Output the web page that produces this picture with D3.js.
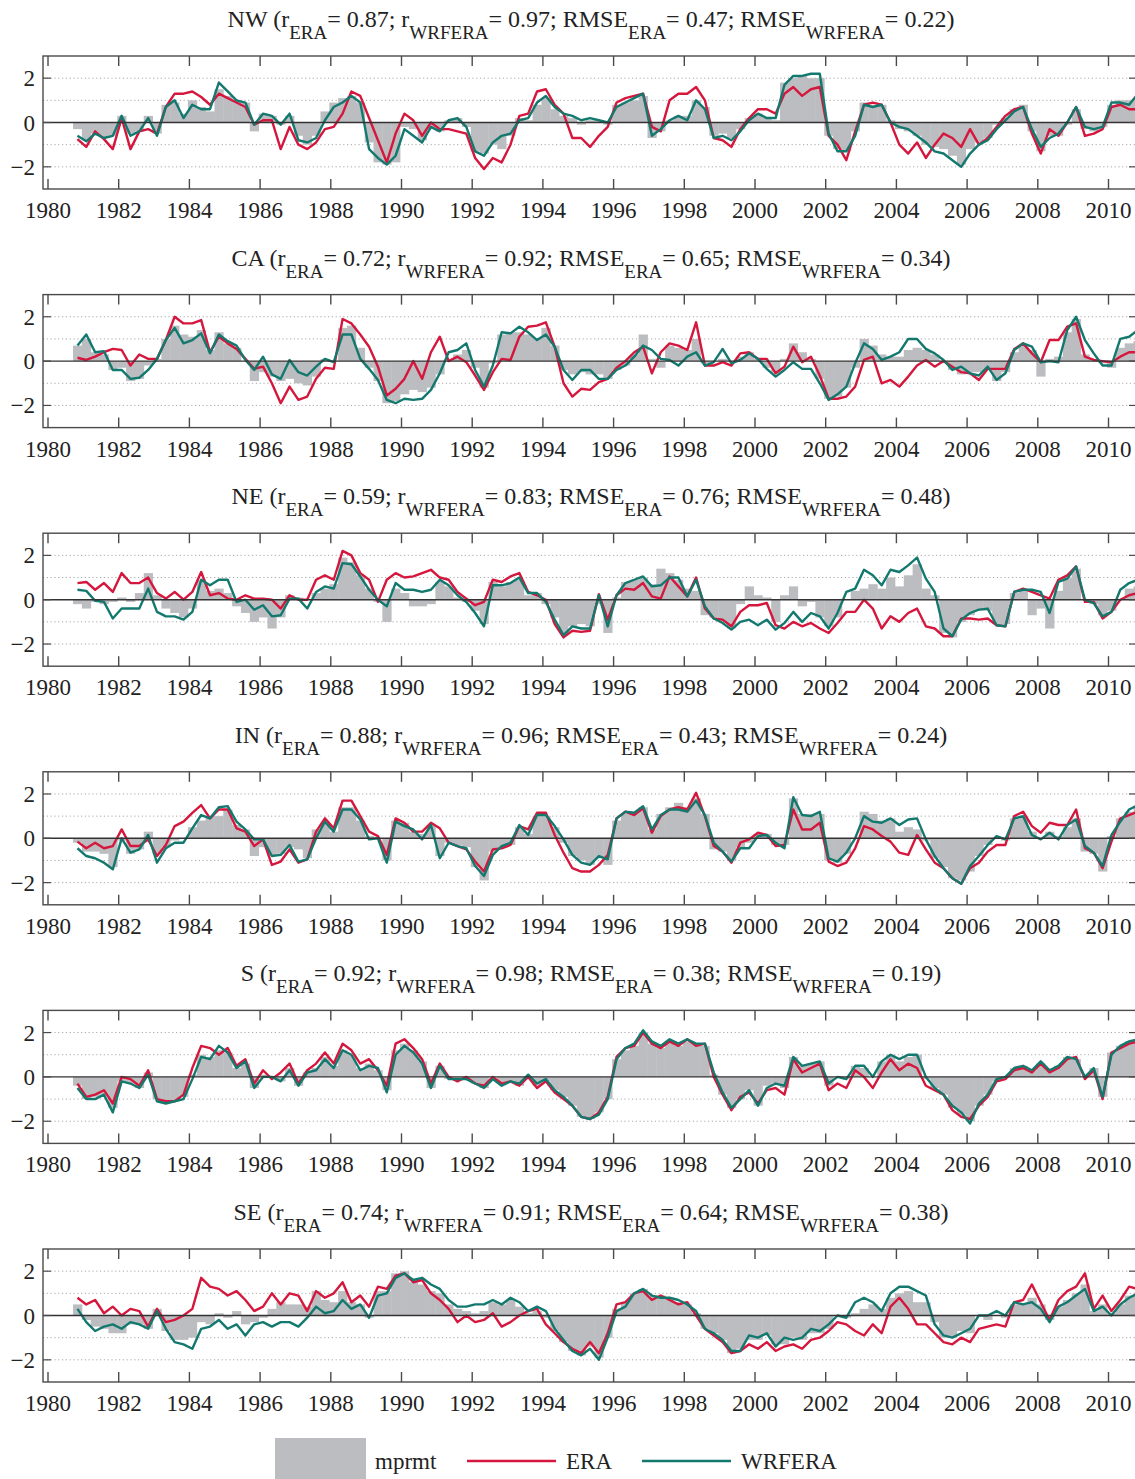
<!DOCTYPE html>
<html>
<head>
<meta charset="utf-8">
<script src="https://cdn.jsdelivr.net/npm/d3@7"></script>
<style>
  html, body { margin: 0; padding: 0; background: #ffffff; }
  svg { display: block; font-family: "Liberation Serif", "Times New Roman", serif; }
</style>
</head>
<body>
<svg id="chart" width="1135" height="1479"></svg>
<script>
// Regional standardized anomaly series, quarterly samples from Nov 1980.
const regions = ["NW", "CA", "NE", "IN", "S", "SE"];
const rEra      = ["0.87", "0.72", "0.59", "0.88", "0.92", "0.74"];
const rWrfera   = ["0.97", "0.92", "0.83", "0.96", "0.98", "0.91"];
const rmseEra   = ["0.47", "0.65", "0.76", "0.43", "0.38", "0.64"];
const rmseWrfera= ["0.22", "0.34", "0.48", "0.24", "0.19", "0.38"];

const yearTicks = [1980, 1982, 1984, 1986, 1988, 1990, 1992, 1994, 1996, 1998, 2000, 2002, 2004, 2006, 2008, 2010];
const valueTicks = [2, 0, -2];
const gridValues = [2, 1, -1, -2];

const firstSample = 1980 + 10 / 12;   // November 1980
const sampleStep = 0.25;              // years between samples

// ---- NW ----
const nwObs = [
  -0.3,-0.8,-0.5,-0.7,  -0.6,0.3,-0.5,-0.4,  0.3,-0.5,0.8,0.9,  0.4,1.0,0.7,0.5,
  1.5,1.2,1.0,0.9,  -0.4,0.4,0.3,-0.1,  0.3,-0.6,-1.0,-0.6,  0.5,0.9,1.1,1.2,
  0.9,-0.9,-1.8,-1.9,  -1.8,-0.2,-0.3,-0.8,  -0.3,-0.4,0.1,0.2,  -0.2,-1.3,-1.4,-1.0,
  -1.2,-0.6,0.2,0.1,  0.8,1.1,0.6,0.3,  0.2,-0.1,0.1,0.1,  -0.1,0.8,0.9,1.0,
  1.2,-0.7,-0.4,0.1,  0.3,0.3,1.0,0.7,  -0.6,-0.5,-0.7,-0.3,  0.2,0.4,0.2,0.1,
  1.8,2.0,2.1,2.0,  2.0,-0.6,-1.2,-1.3,  -0.4,0.9,0.8,0.8,  0.1,-0.3,-0.4,-0.6,
  -1.0,-1.1,-1.2,-1.5,  -1.9,-1.2,-0.9,-0.7,  -0.1,0.2,0.6,0.8,  -0.4,-1.3,-0.6,-0.6,
  -0.1,0.6,-0.3,-0.4,  -0.2,0.8,1.0,1.0,  1.1
];
const nwEra = [
  -0.75,-1.1,-0.4,-0.75,  -1.2,0.2,-1.2,-0.4,  -0.3,-0.5,0.7,1.3,  1.3,1.4,1.15,0.8,
  1.3,1.1,0.9,0.7,  -0.1,0.1,0.1,-1.2,  -0.2,-1.0,-1.2,-0.9,  -0.3,-0.2,0.4,1.4,
  1.2,0.2,-0.8,-1.8,  -0.5,0.4,0.1,-0.6,  0.0,-0.3,-0.3,-0.4,  -0.5,-1.6,-2.1,-1.6,
  -1.8,-1.0,0.3,0.4,  1.4,1.5,0.8,0.4,  -0.7,-0.7,-1.1,-0.6,  -0.2,0.9,1.1,1.2,
  1.3,-0.2,-0.4,1.0,  1.3,1.3,1.6,1.0,  -0.7,-0.8,-1.1,-0.3,  0.2,0.6,0.6,0.4,
  1.3,1.6,1.2,1.5,  1.6,-0.6,-1.0,-1.7,  -0.4,0.8,0.9,0.8,  0.0,-1.0,-1.4,-0.9,
  -1.6,-1.0,-0.5,-0.7,  -1.1,-0.3,-1.0,-0.7,  -0.2,0.3,0.6,0.7,  -0.5,-1.4,-0.3,-0.6,
  0.0,0.7,-0.6,-0.5,  -0.3,0.7,0.8,0.6,  0.6
];
const nwWrfera = [
  -0.6,-0.85,-0.5,-0.7,  -0.6,0.3,-0.6,-0.4,  0.2,-0.6,0.7,1.0,  0.2,0.8,0.6,0.6,
  1.8,1.4,1.0,0.9,  -0.1,0.4,0.3,-0.1,  0.4,-0.8,-0.9,-0.7,  0.1,0.7,0.9,1.2,
  0.9,-1.2,-1.6,-1.9,  -1.5,-0.3,-0.6,-0.9,  -0.2,-0.4,0.1,0.2,  -0.2,-1.3,-1.5,-0.9,
  -0.6,-0.5,0.1,0.2,  0.9,1.2,0.7,0.4,  0.3,0.1,0.2,0.1,  0.0,0.7,0.9,1.1,
  1.3,-0.6,-0.3,0.1,  0.3,0.1,1.0,0.6,  -0.7,-0.6,-0.8,-0.4,  0.1,0.4,0.2,0.2,
  1.7,2.1,2.1,2.2,  2.2,-0.5,-1.3,-1.3,  -0.6,0.8,0.7,0.8,  0.0,-0.2,-0.3,-0.6,
  -0.9,-1.3,-1.4,-1.7,  -2.0,-1.4,-1.0,-0.8,  -0.3,0.1,0.5,0.7,  -0.3,-1.1,-0.7,-0.5,
  0.0,0.7,-0.2,-0.3,  -0.2,0.9,0.9,0.8,  1.3
];

// ---- CA ----
const caObs = [
  0.7,1.0,0.4,0.3,  -0.4,-0.3,-0.9,-0.8,  -0.2,0.1,1.0,1.6,  1.2,1.1,1.4,0.5,
  1.3,0.8,0.6,0.0,  -0.9,-0.5,-0.7,-0.9,  -0.8,-1.0,-1.1,-0.7,  0.1,0.0,1.5,1.6,
  0.6,-0.3,-0.9,-1.9,  -1.8,-1.5,-1.3,-1.4,  -1.2,-0.6,0.0,0.3,  0.5,-0.3,-1.2,-0.1,
  1.2,1.3,1.3,1.2,  1.0,1.5,0.7,-0.4,  -0.6,-0.5,-0.6,-0.6,  -0.8,-0.4,-0.2,0.3,
  1.2,0.1,-0.3,0.7,  0.6,0.5,1.0,-0.1,  0.0,0.1,0.0,0.2,  0.4,0.1,-0.3,-0.5,
  0.1,0.8,0.4,0.1,  -0.8,-1.7,-1.6,-1.2,  -0.3,1.0,0.7,0.3,  0.2,0.2,0.5,0.6,
  0.5,0.3,-0.1,-0.4,  -0.6,-0.5,-0.5,-0.4,  -0.9,-0.5,0.4,0.7,  0.5,-0.7,0.1,0.2,
  1.3,1.9,0.3,0.1,  -0.1,-0.3,0.6,0.8,  0.9
];
const caEra = [
  0.15,0.05,0.2,0.4,  0.55,0.5,-0.2,0.3,  0.1,0.1,0.95,2.0,  1.7,1.7,1.85,0.4,
  1.1,0.8,0.55,0.1,  -0.35,-0.25,-1.0,-1.9,  -1.15,-1.75,-1.6,-0.8,  -0.3,-0.35,1.9,1.7,
  1.2,0.65,-0.25,-1.55,  -1.25,-0.8,0.0,-0.8,  0.4,1.1,0.0,0.2,  -0.05,-0.65,-1.3,-0.5,
  0.1,0.05,1.1,1.55,  1.6,1.75,0.65,-1.0,  -1.6,-1.25,-1.3,-0.95,  -0.8,-0.3,0.0,0.4,
  0.65,-0.55,0.4,0.8,  0.7,0.5,1.75,-0.2,  -0.2,-0.05,-0.2,0.35,  0.4,0.1,0.1,-0.55,
  -0.25,0.65,-0.05,0.2,  -0.65,-1.7,-1.7,-1.6,  -1.15,0.05,0.2,-1.0,  -0.85,-1.15,-0.7,-0.2,
  0.05,-0.25,0.0,-0.25,  -0.5,-0.55,-0.85,-0.35,  -0.35,-0.35,0.55,0.8,  0.35,-0.05,0.95,0.95,
  1.55,1.7,0.2,0.05,  0.0,-0.05,0.2,0.4,  0.4
];
const caWrfera = [
  0.7,1.2,0.4,0.45,  -0.4,-0.4,-0.8,-0.75,  -0.4,0.1,0.95,1.5,  0.8,0.95,1.25,0.35,
  1.2,0.9,0.7,0.05,  -0.4,0.2,-0.6,-0.8,  0.05,-0.5,-0.65,-0.25,  0.1,-0.05,1.2,1.2,
  0.1,-0.35,-0.85,-1.75,  -1.9,-1.7,-1.75,-1.7,  -1.3,-0.55,0.4,0.5,  0.8,-0.4,-1.15,-0.2,
  1.3,1.25,1.55,1.3,  0.95,1.2,0.65,-0.4,  -0.85,-0.4,-0.4,-0.8,  -0.8,-0.4,-0.2,0.2,
  0.7,0.5,0.1,0.05,  -0.2,0.2,0.4,-0.2,  -0.05,0.55,-0.1,0.05,  0.35,0.1,-0.35,-0.7,
  -0.4,-0.05,-0.35,-0.35,  -1.0,-1.75,-1.5,-1.15,  -0.1,0.8,0.55,0.05,  0.2,0.4,1.0,1.0,
  0.55,0.35,0.05,-0.4,  -0.25,-0.55,-0.65,-0.25,  -0.85,-0.55,0.5,0.8,  0.65,-0.05,0.0,-0.05,
  1.4,2.0,0.95,0.35,  -0.2,-0.2,1.0,1.1,  1.4
];

// ---- NE ----
const neObs = [
  -0.2,-0.4,-0.1,-0.2,  -0.1,0.1,-0.1,0.3,  1.2,0.2,-0.4,-0.6,  -0.8,-0.4,0.9,0.4,
  0.5,0.3,-0.3,-0.6,  -1.0,-0.8,-1.3,-0.8,  0.2,0.1,0.0,0.3,  0.5,0.7,1.9,1.7,
  1.1,0.5,-0.1,-1.0,  0.5,0.3,-0.3,-0.3,  -0.2,0.8,0.6,0.1,  -0.1,-0.5,-1.1,0.8,
  0.6,0.8,0.9,0.2,  0.3,-0.2,-0.8,-1.5,  -1.2,-1.1,-1.2,-0.2,  -1.5,0.1,0.8,0.9,
  1.0,0.7,1.4,1.2,  0.9,0.5,0.4,-0.7,  -0.8,-1.0,-1.3,-0.2,  0.6,0.2,0.1,-1.0,
  0.2,0.6,-0.3,-0.1,  -0.8,-1.2,-0.8,0.0,  0.4,0.5,0.7,0.5,  1.0,0.6,1.1,1.6,
  0.5,0.2,-1.5,-1.7,  -1.0,-0.7,-0.5,-0.5,  -1.1,-1.1,0.3,0.4,  -0.7,-0.4,-1.3,0.4,
  1.0,1.4,0.0,-0.2,  -0.7,-0.5,0.0,0.5,  0.6
];
const neEra = [
  0.75,0.8,0.45,0.75,  0.35,1.2,0.75,0.75,  1.0,0.3,0.05,0.35,  0.0,0.35,1.25,0.2,
  0.3,0.05,0.0,0.2,  0.05,0.05,0.0,-0.4,  0.2,0.0,0.0,0.9,  1.1,0.9,2.2,2.0,
  1.2,0.9,-0.1,0.9,  1.2,1.0,1.05,1.2,  1.35,1.0,0.9,0.35,  0.05,-0.25,-0.1,0.9,
  0.8,1.05,1.2,0.35,  0.2,0.0,-1.1,-1.7,  -1.4,-1.45,-1.4,0.25,  -0.9,0.2,0.5,0.45,
  0.75,0.15,0.05,1.05,  0.6,0.15,1.0,-0.4,  -0.85,-0.9,-1.2,-0.55,  -0.25,-0.25,-0.15,-1.15,
  -1.3,-1.0,-1.2,-1.05,  -1.3,-1.5,-1.05,-0.55,  -0.55,0.0,-0.4,-1.3,  -0.75,-1.0,-0.6,-0.4,
  -1.2,-1.3,-1.65,-1.65,  -0.85,-0.85,-0.9,-0.85,  -1.15,-1.2,0.35,0.5,  0.35,0.2,0.05,0.9,
  1.1,1.5,-0.1,-0.1,  -0.85,-0.55,0.0,0.2,  0.3
];
const neWrfera = [
  0.45,0.4,-0.05,-0.1,  -0.85,-0.4,-0.4,-0.4,  0.5,-0.55,-0.75,-0.75,  -0.9,-0.55,0.9,0.65,
  0.9,0.9,-0.1,0.0,  -0.45,-0.25,-0.75,-0.7,  0.05,0.05,-0.4,0.35,  0.6,0.5,1.65,1.6,
  1.05,0.45,0.0,-0.3,  0.75,0.45,0.45,0.35,  0.45,0.9,0.65,0.2,  -0.1,-0.6,-1.2,0.65,
  0.65,0.75,1.0,0.3,  0.3,-0.1,-0.9,-1.6,  -1.2,-1.3,-1.3,0.2,  -1.2,0.2,0.75,0.9,
  1.05,0.6,0.65,1.0,  1.0,0.15,0.9,-0.3,  -0.85,-1.05,-1.35,-1.0,  -0.9,-1.15,-0.9,-1.35,
  -1.05,-0.55,-1.0,-0.6,  -0.75,-1.3,-0.6,0.35,  0.5,1.35,1.1,0.65,  1.35,1.25,1.55,1.9,
  0.95,0.35,-1.3,-1.65,  -0.9,-0.6,-0.45,-0.4,  -1.15,-1.2,0.35,0.45,  0.45,0.35,-0.6,0.8,
  0.95,1.5,0.0,-0.15,  -0.75,-0.55,0.45,0.75,  0.9
];

// ---- IN ----
const inObs = [
  -0.2,-0.6,-0.6,-0.7,  -1.3,-0.1,-0.7,-0.5,  0.3,-0.7,-0.4,-0.1,  0.0,0.5,0.8,1.0,
  1.0,1.3,0.6,0.4,  -0.8,-0.4,-0.8,-0.7,  -0.4,-0.5,-0.9,0.4,  0.7,0.3,1.4,1.4,
  0.8,0.1,0.0,-1.0,  0.8,0.7,0.3,0.2,  0.6,-0.8,-0.2,-0.3,  -0.4,-1.3,-1.9,-0.6,
  -0.4,-0.3,0.5,0.2,  1.0,1.0,0.5,-0.2,  -0.8,-1.0,-1.2,-0.9,  -1.2,0.8,1.1,1.1,
  1.4,0.4,1.1,1.4,  1.6,1.4,1.8,1.1,  -0.5,-0.6,-1.0,-0.4,  -0.2,0.2,0.2,-0.3,
  -0.3,1.8,1.1,1.1,  1.1,-1.0,-1.1,-0.7,  0.0,1.2,1.1,0.8,  0.9,0.3,0.5,0.4,
  -0.1,-0.9,-1.3,-1.8,  -1.9,-1.5,-0.8,-0.3,  0.0,-0.1,0.9,1.0,  0.3,0.0,0.3,0.1,
  0.5,0.9,-0.6,-0.7,  -1.5,0.1,0.9,1.2,  1.4
];
const inEra = [
  -0.15,-0.45,-0.2,-0.45,  -0.35,0.4,-0.35,-0.35,  -0.05,-0.8,-0.3,0.55,  0.75,1.15,1.5,0.9,
  1.3,1.3,0.45,0.3,  -0.35,-0.05,-1.2,-1.05,  -0.5,-1.1,-0.95,0.3,  0.9,0.45,1.7,1.7,
  1.0,0.3,0.1,-0.75,  0.9,0.7,0.3,0.3,  0.7,0.45,-0.2,-0.35,  -0.5,-1.05,-1.5,-0.5,
  -0.45,-0.3,0.55,0.4,  1.15,1.15,0.15,-0.65,  -1.35,-1.5,-1.5,-1.2,  -0.75,0.9,1.2,1.05,
  1.35,0.25,1.0,1.3,  1.4,1.3,2.05,1.0,  -0.35,-0.6,-1.1,-0.2,  -0.05,0.25,0.15,-0.35,
  -0.3,1.3,0.4,0.4,  0.7,-1.05,-1.25,-1.1,  -0.45,0.55,0.4,0.1,  -0.15,-0.65,-0.75,0.15,
  -0.5,-1.1,-1.35,-1.8,  -2.05,-1.35,-1.1,-0.6,  -0.3,-0.3,1.0,1.2,  0.55,0.25,0.7,0.6,
  0.6,1.3,-0.45,-0.65,  -1.35,-0.15,0.9,1.05,  1.2
];
const inWrfera = [
  -0.45,-0.8,-0.9,-1.1,  -1.4,0.0,-0.65,-0.5,  0.15,-1.1,-0.45,-0.2,  -0.2,0.45,1.05,0.9,
  1.4,1.45,0.75,0.4,  -0.05,-0.05,-0.8,-0.75,  -0.3,-1.05,-0.95,0.0,  0.75,0.3,1.3,1.3,
  0.85,-0.05,0.0,-1.1,  0.75,0.55,0.4,-0.05,  0.6,-0.9,-0.2,-0.35,  -0.45,-1.25,-1.7,-0.75,
  -0.35,-0.2,0.6,0.15,  1.05,1.05,0.55,-0.05,  -0.75,-1.1,-1.2,-0.8,  -0.95,0.9,1.2,1.15,
  1.45,0.4,1.05,1.3,  1.3,1.2,1.7,1.05,  -0.2,-0.6,-1.05,-0.45,  -0.45,0.1,0.15,-0.2,
  -0.45,1.85,1.05,1.0,  1.2,-0.9,-1.05,-0.65,  0.0,1.0,0.75,0.7,  0.9,0.6,0.85,0.9,
  -0.05,-0.8,-1.35,-1.8,  -2.05,-1.25,-0.8,-0.3,  0.1,-0.05,0.9,1.0,  0.15,-0.05,0.25,-0.05,
  0.6,0.85,-0.35,-0.65,  -1.25,0.15,0.75,1.3,  1.5
];

// ---- S ----
const sObs = [
  -0.4,-1.0,-0.9,-0.8,  -1.4,-0.2,-0.3,-0.5,  0.2,-1.0,-1.1,-1.1,  -0.9,0.1,1.0,0.9,
  1.2,1.1,0.4,0.6,  -0.5,0.1,0.0,-0.2,  0.4,-0.4,0.2,0.4,  0.9,0.5,1.2,1.0,
  0.4,0.6,0.3,-0.6,  1.2,1.5,1.2,0.7,  -0.5,0.5,-0.1,-0.1,  -0.1,-0.3,-0.5,0.0,
  -0.3,-0.2,-0.4,0.0,  -0.4,-0.2,-0.6,-0.9,  -1.3,-1.8,-1.9,-1.6,  -1.0,0.8,1.2,1.4,
  2.0,1.5,1.3,1.6,  1.4,1.6,1.5,1.4,  0.1,-0.8,-1.4,-1.0,  -0.6,-1.3,-0.4,-0.3,
  -0.5,0.9,0.5,0.6,  0.7,-0.4,0.0,-0.1,  0.5,0.4,0.0,0.7,  1.0,0.7,0.9,1.0,
  -0.1,-0.5,-0.8,-1.4,  -1.7,-2.0,-1.3,-0.8,  -0.2,0.0,0.4,0.5,  0.3,0.6,0.3,0.5,
  0.9,0.8,0.0,0.4,  -0.9,1.1,1.4,1.6,  1.7
];
const sEra = [
  -0.3,-0.9,-0.8,-0.6,  -1.2,0.0,-0.1,-0.4,  0.3,-1.0,-1.1,-1.1,  -0.8,0.4,1.4,1.3,
  1.0,1.3,0.5,0.8,  -0.3,0.3,-0.1,0.2,  0.6,-0.3,0.3,0.6,  1.1,0.6,1.5,1.2,
  0.6,0.8,0.3,-0.4,  1.5,1.7,1.3,0.8,  -0.3,0.6,0.0,-0.2,  0.0,-0.3,-0.4,0.0,
  -0.3,-0.2,-0.4,0.0,  -0.5,-0.2,-0.7,-1.0,  -1.3,-1.8,-1.9,-1.6,  -0.9,0.9,1.3,1.4,
  2.0,1.5,1.3,1.6,  1.4,1.7,1.4,1.5,  0.0,-0.8,-1.5,-0.9,  -0.7,-1.2,-0.6,-0.5,
  -0.8,0.8,0.2,0.4,  0.6,-0.6,-0.3,-0.5,  0.3,0.0,-0.5,0.2,  0.8,0.3,0.6,0.4,
  -0.4,-0.6,-0.8,-1.5,  -1.8,-1.9,-1.3,-0.9,  -0.2,-0.1,0.3,0.4,  0.2,0.6,0.2,0.4,
  0.8,0.9,-0.1,0.3,  -1.0,1.1,1.3,1.5,  1.6
];
const sWrfera = [
  -0.5,-1.0,-1.0,-0.8,  -1.6,-0.2,-0.3,-0.5,  0.1,-1.1,-1.2,-1.1,  -1.0,-0.1,0.9,0.8,
  1.4,1.1,0.4,0.7,  -0.5,0.0,0.0,-0.2,  0.3,-0.4,0.2,0.3,  0.8,0.4,1.2,1.0,
  0.3,0.5,0.4,-0.7,  1.0,1.4,1.1,0.6,  -0.5,0.5,-0.1,-0.1,  -0.1,-0.3,-0.5,-0.1,
  -0.4,-0.2,-0.3,0.1,  -0.3,-0.1,-0.6,-0.9,  -1.3,-1.8,-1.9,-1.7,  -1.0,0.8,1.3,1.5,
  2.1,1.6,1.4,1.7,  1.5,1.7,1.5,1.5,  0.2,-0.7,-1.4,-1.0,  -0.6,-1.3,-0.5,-0.3,
  -0.4,0.9,0.5,0.6,  0.7,-0.3,0.0,-0.1,  0.5,0.5,0.0,0.7,  1.0,0.8,1.0,1.0,
  0.0,-0.5,-0.8,-1.3,  -1.6,-2.1,-1.2,-0.8,  -0.1,0.0,0.4,0.5,  0.3,0.7,0.3,0.5,
  0.9,0.8,0.0,0.4,  -0.9,1.0,1.4,1.6,  1.7
];

// ---- SE ----
const seObs = [
  0.5,-0.2,-0.5,-0.6,  -0.8,-0.8,-0.4,-0.4,  -0.6,0.3,-0.7,-1.1,  -1.1,-1.0,-0.3,-0.4,
  0.1,-0.1,0.2,-0.4,  -0.3,-0.1,0.3,0.6,  0.5,0.5,0.4,1.1,  0.7,0.6,1.1,0.6,
  0.5,-0.1,1.1,1.1,  1.9,2.0,1.5,1.4,  1.1,1.0,0.5,0.3,  0.2,0.1,0.2,0.6,
  0.5,0.7,0.4,0.1,  0.2,-0.1,-0.7,-1.2,  -1.6,-1.8,-1.4,-1.9,  -1.0,0.3,0.6,1.0,
  1.2,0.9,0.9,0.8,  0.6,0.5,0.1,-0.6,  -0.8,-1.1,-1.7,-1.5,  -1.1,-1.1,-0.9,-1.3,
  -1.3,-1.0,-1.1,-0.8,  -0.8,-0.6,0.0,-0.1,  0.1,0.3,0.5,0.3,  0.8,1.0,1.1,0.6,
  0.6,-0.3,-1.0,-1.0,  -0.7,-0.8,0.0,-0.2,  0.0,-0.1,0.5,0.5,  0.8,0.5,-0.2,0.4,
  0.7,1.0,1.4,0.2,  0.5,0.1,0.5,0.9,  1.0
];
const seEra = [
  0.8,0.5,0.7,0.1,  0.4,0.0,0.3,0.2,  -0.5,0.3,-0.3,-0.2,  0.0,0.3,1.7,1.3,
  1.2,0.9,1.1,0.7,  0.2,0.4,1.0,0.5,  1.0,0.9,0.2,1.1,  0.8,1.0,1.5,0.6,
  0.9,0.4,1.3,1.2,  1.8,1.9,1.5,1.6,  1.0,0.7,0.3,-0.3,  0.0,-0.3,-0.2,0.1,
  -0.5,-0.3,0.0,0.2,  0.3,-0.4,-0.8,-1.2,  -1.5,-1.7,-1.2,-1.7,  -0.8,0.5,0.6,1.0,
  1.1,0.7,0.9,0.7,  0.5,0.6,0.0,-0.6,  -0.9,-1.2,-1.7,-1.6,  -1.3,-1.5,-1.2,-1.6,
  -1.4,-1.3,-1.5,-1.1,  -1.0,-0.7,-0.3,-0.4,  -0.7,-0.9,-0.4,-0.8,  0.4,0.8,0.3,-0.4,
  -0.4,-0.8,-1.2,-1.3,  -1.0,-1.2,-0.6,-0.5,  -0.4,-0.5,0.6,0.7,  1.4,0.6,-0.2,0.7,
  1.1,1.3,1.9,0.3,  0.9,0.2,0.7,1.3,  1.2
];
const seWrfera = [
  0.3,-0.3,-0.7,-0.5,  -0.4,-0.6,-0.3,-0.4,  -0.6,0.2,-0.6,-1.2,  -1.3,-1.5,-0.6,-0.5,
  -0.2,-0.6,-0.4,-0.9,  -0.4,-0.3,-0.5,-0.3,  -0.3,-0.5,-0.1,0.4,  0.1,0.2,0.7,0.3,
  0.5,-0.1,0.9,1.0,  1.7,1.9,1.6,1.7,  1.4,1.2,0.7,0.4,  0.4,0.5,0.5,0.7,
  0.5,0.8,0.6,0.2,  0.4,0.2,-0.6,-1.1,  -1.6,-1.8,-1.5,-2.0,  -1.0,0.2,0.4,1.0,
  1.2,0.9,0.8,0.8,  0.7,0.5,0.2,-0.6,  -0.8,-1.1,-1.6,-1.6,  -0.9,-1.0,-0.8,-1.4,
  -1.0,-1.1,-1.0,-0.6,  -0.7,-0.4,0.0,-0.1,  0.6,0.8,0.6,0.2,  1.0,1.3,1.3,1.1,
  0.9,-0.4,-0.9,-1.0,  -0.8,-0.6,0.0,0.0,  0.2,0.0,0.6,0.5,  0.6,0.3,-0.3,0.4,
  0.6,0.9,1.2,0.2,  0.4,0.0,0.5,0.8,  1.0
];

const obsSeries    = [nwObs, caObs, neObs, inObs, sObs, seObs];
const eraSeries    = [nwEra, caEra, neEra, inEra, sEra, seEra];
const wrferaSeries = [nwWrfera, caWrfera, neWrfera, inWrfera, sWrfera, seWrfera];

// ---- drawing ----
const colors = { obs: "#bcbdc0", era: "#d5173d", wrfera: "#13796f", frame: "#4a4a4a", grid: "#a8a8a8" };
const svg = d3.select("#chart");

const frameLeft = 43, frameRight = 1137;
const panelTop0 = 56, panelPitch = 238.6, panelHeight = 133;

const x = d3.scaleLinear().domain([1980, 2010]).range([48, 1108.5]);
const y = d3.scaleLinear().domain([-3, 3]).range([panelHeight, 0]);

svg.append("defs").append("clipPath").attr("id", "plotClip")
  .append("rect").attr("x", frameLeft).attr("y", 0)
  .attr("width", frameRight - frameLeft).attr("height", panelHeight);

regions.forEach((name, p) => {
  const top = panelTop0 + p * panelPitch;
  const g = svg.append("g").attr("transform", `translate(0,${top})`);
  const obs = obsSeries[p], era = eraSeries[p], wrf = wrferaSeries[p];
  const t = obs.map((_, i) => firstSample + i * sampleStep);

  // title with subscripts
  const title = g.append("text")
    .attr("x", 591).attr("y", -29)
    .attr("text-anchor", "middle").attr("font-size", 24).attr("fill", "#222");
  const parts = [
    [`${name} (r`, false], ["ERA", true], [`= ${rEra[p]}; r`, false], ["WRFERA", true],
    [`= ${rWrfera[p]}; RMSE`, false], ["ERA", true], [`= ${rmseEra[p]}; RMSE`, false],
    ["WRFERA", true], [`= ${rmseWrfera[p]})`, false]
  ];
  parts.forEach(([txt, sub]) => {
    title.append("tspan").attr("dy", sub ? 12 : (txt.startsWith("=") ? -12 : 0))
      .attr("font-size", sub ? 19 : 24).text(txt);
  });

  // dotted gridlines
  g.selectAll("line.grid").data(gridValues).join("line")
    .attr("x1", frameLeft).attr("x2", frameRight)
    .attr("y1", d => y(d)).attr("y2", d => y(d))
    .attr("stroke", colors.grid).attr("stroke-width", 1)
    .attr("stroke-dasharray", "1.2,2.6");

  const plot = g.append("g").attr("clip-path", "url(#plotClip)");

  // observed anomaly bars
  plot.selectAll("rect.obs").data(obs).join("rect")
    .attr("x", (d, i) => x(t[i] - sampleStep / 2))
    .attr("width", (d, i) => x(t[i] + sampleStep / 2) - x(t[i] - sampleStep / 2) + 0.4)
    .attr("y", d => y(Math.max(0, d)))
    .attr("height", d => Math.abs(y(d) - y(0)))
    .attr("fill", colors.obs);

  // zero line
  g.append("line").attr("x1", frameLeft).attr("x2", frameRight)
    .attr("y1", y(0)).attr("y2", y(0))
    .attr("stroke", "#333").attr("stroke-width", 1.4);

  const line = d3.line().x((d, i) => x(t[i])).y(d => y(d));
  plot.append("path").datum(era).attr("d", line)
    .attr("fill", "none").attr("stroke", colors.era).attr("stroke-width", 2.4)
    .attr("stroke-linejoin", "round");
  plot.append("path").datum(wrf).attr("d", line)
    .attr("fill", "none").attr("stroke", colors.wrfera).attr("stroke-width", 2.4)
    .attr("stroke-linejoin", "round");

  // frame
  g.append("rect").attr("x", frameLeft).attr("y", 0)
    .attr("width", frameRight - frameLeft).attr("height", panelHeight)
    .attr("fill", "none").attr("stroke", colors.frame).attr("stroke-width", 1.4);

  // year ticks (inward, top and bottom) and labels
  yearTicks.forEach(yr => {
    const xx = x(yr);
    g.append("line").attr("x1", xx).attr("x2", xx).attr("y1", 0).attr("y2", 10)
      .attr("stroke", colors.frame).attr("stroke-width", 1.4);
    g.append("line").attr("x1", xx).attr("x2", xx).attr("y1", panelHeight - 10).attr("y2", panelHeight)
      .attr("stroke", colors.frame).attr("stroke-width", 1.4);
    g.append("text").attr("x", xx).attr("y", panelHeight + 29)
      .attr("text-anchor", "middle").attr("font-size", 23).attr("fill", "#222").text(yr);
  });

  // value ticks and labels
  valueTicks.forEach(v => {
    g.append("line").attr("x1", frameLeft).attr("x2", frameLeft + 8)
      .attr("y1", y(v)).attr("y2", y(v)).attr("stroke", colors.frame).attr("stroke-width", 1.2);
    g.append("line").attr("x1", frameRight - 8).attr("x2", frameRight)
      .attr("y1", y(v)).attr("y2", y(v)).attr("stroke", colors.frame).attr("stroke-width", 1.2);
    g.append("text").attr("x", 35).attr("y", y(v)).attr("dy", "0.35em")
      .attr("text-anchor", "end").attr("font-size", 23).attr("fill", "#222")
      .text(v < 0 ? "\u2212" + Math.abs(v) : String(v));
  });
});

// legend
const legend = svg.append("g");
legend.append("rect").attr("x", 275).attr("y", 1438).attr("width", 91).attr("height", 41)
  .attr("fill", colors.obs);
legend.append("text").attr("x", 375).attr("y", 1469).attr("font-size", 23).attr("fill", "#222").text("mprmt");
legend.append("line").attr("x1", 467).attr("x2", 556).attr("y1", 1461).attr("y2", 1461)
  .attr("stroke", colors.era).attr("stroke-width", 2.6);
legend.append("text").attr("x", 566).attr("y", 1469).attr("font-size", 23).attr("fill", "#222").text("ERA");
legend.append("line").attr("x1", 642).attr("x2", 731).attr("y1", 1461).attr("y2", 1461)
  .attr("stroke", colors.wrfera).attr("stroke-width", 2.6);
legend.append("text").attr("x", 741).attr("y", 1469).attr("font-size", 23).attr("fill", "#222").text("WRFERA");
</script>
</body>
</html>
